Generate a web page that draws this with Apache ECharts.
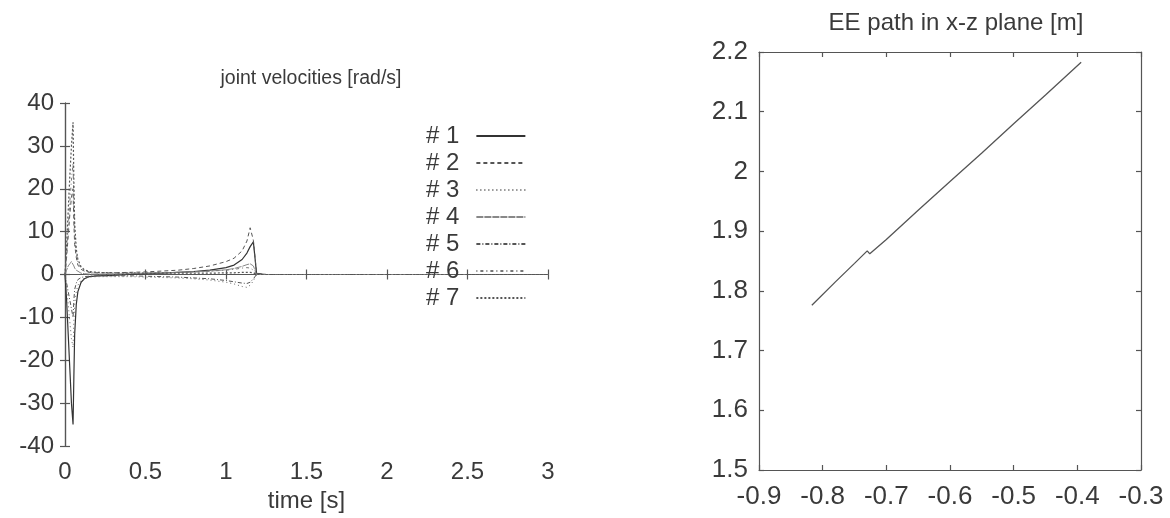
<!DOCTYPE html>
<html>
<head>
<meta charset="utf-8">
<script src="https://cdn.jsdelivr.net/npm/echarts@6/dist/echarts.min.js"></script>
<style>
  html, body { margin: 0; padding: 0; background: #fff; }
  #chart { width: 1170px; height: 518px; }
</style>
</head>
<body>
<div id="chart"></div>
<script>
// Time samples [s] shared by all joint velocity traces
const time = [0, 0.01, 0.02, 0.03, 0.04, 0.05, 0.055, 0.06, 0.07, 0.08, 0.1, 0.12, 0.15, 0.2, 0.3, 0.4, 0.5, 0.6, 0.7, 0.8, 0.9, 1.0, 1.05, 1.1, 1.13, 1.15, 1.17, 1.19, 1.25, 1.5, 2.0, 2.5, 3.0];

// Joint velocities [rad/s]
const joint1 = [0, -6, -14, -22, -30, -35, -24, -14, -7, -4, -1.8, -1.0, -0.5, -0.3, -0.2, 0.0, 0.2, 0.3, 0.5, 0.7, 1.0, 1.6, 2.2, 3.5, 5.0, 6.5, 7.6, 0.2, 0, 0, 0, 0, null];
const joint2 = [0, 4, 9, 14, 18, 20, 12, 7, 4, 2.2, 1.2, 0.8, 0.5, 0.4, 0.4, 0.5, 0.6, 0.8, 1.0, 1.4, 2.0, 3.0, 3.8, 5.5, 7.8, 10.9, 8.0, 0.3, 0, 0, 0, 0, null];
const joint3 = [0, -3, -7, -11, -15, -17, -11, -7, -4, -2.5, -1.3, -0.9, -0.6, -0.5, -0.5, -0.5, -0.6, -0.7, -0.8, -1.0, -1.3, -1.8, -2.2, -2.8, -3.0, -2.5, -1.5, 0, 0, 0, 0, 0, 0];
const joint4 = [0, 1, 2, 2.5, 3, 3, 2, 1.5, 1, 0.6, 0.3, 0.2, 0.1, 0.1, 0.1, 0.2, 0.3, 0.4, 0.5, 0.6, 0.8, 1.1, 1.4, 1.9, 2.3, 2.5, 2.0, 0, 0, 0, 0, 0, null];
const joint5 = [0, -2, -4, -6, -8, -10, -6, -3.5, -2, -1.2, -0.7, -0.5, -0.4, -0.3, -0.3, -0.3, -0.4, -0.5, -0.6, -0.8, -1.0, -1.4, -1.7, -2.0, -2.1, -1.8, -1.0, 0, 0, 0, 0, 0, null];
const joint6 = [0, 5, 11, 17, 22, 26, 16, 9, 5, 3, 1.5, 1.0, 0.6, 0.4, 0.3, 0.3, 0.3, 0.4, 0.5, 0.6, 0.8, 1.0, 1.2, 1.5, 1.6, 1.5, 1.0, 0, 0, 0, 0, 0, null];
const joint7 = [0, 7, 15, 23, 30, 35.5, 22, 12, 6, 3.5, 1.8, 1.1, 0.7, 0.5, 0.4, 0.4, 0.3, 0.3, 0.3, 0.3, 0.3, 0.4, 0.4, 0.5, 0.5, 0.5, 0.4, 0, 0, 0, 0, 0, null];

const jointNames = ['# 1', '# 2', '# 3', '# 4', '# 5', '# 6', '# 7'];

// End-effector path in the x-z plane [m]
const eeX = [-0.817, -0.78, -0.75, -0.730, -0.726, -0.70, -0.65, -0.60, -0.55, -0.50, -0.45, -0.394];
const eeZ = [1.776, 1.815, 1.846, 1.867, 1.862, 1.886, 1.935, 1.983, 2.031, 2.080, 2.128, 2.183];

const FONT = 'Liberation Sans, Arial, Helvetica, sans-serif';
const INK = '#3a3a3a';

const joints = [joint1, joint2, joint3, joint4, joint5, joint6, joint7];
const dashes = ['solid', [4, 3], [1, 3], [7, 1], [4, 2, 1, 2], [1, 3, 3, 3], [2, 2]];
const widths = [1.2, 1, 1, 1, 1, 1, 1.2];
const shades = ['#333', '#555', '#666', '#888', '#555', '#777', '#555'];

const frameLine = { show: true, lineStyle: { color: '#555', width: 1.2 } };
const tickIn = { show: true, inside: true, length: 5, lineStyle: { color: '#555', width: 1.2 } };
const leftTickLabel = { color: INK, fontFamily: FONT, fontSize: 24 };
const rightTickLabel = { color: INK, fontFamily: FONT, fontSize: 26 };

function pairs(xs, ys) {
  return xs.map((x, i) => [x, ys[i]]);
}

const series = joints.map((vals, i) => ({
  name: jointNames[i],
  type: 'line',
  xAxisIndex: 0,
  yAxisIndex: 0,
  symbol: 'none',
  showSymbol: false,
  connectNulls: false,
  animation: false,
  lineStyle: { color: shades[i], width: widths[i], type: dashes[i] },
  itemStyle: { color: shades[i] },
  data: pairs(time, vals)
}));

series.push({
  name: 'EE path',
  type: 'line',
  xAxisIndex: 2,
  yAxisIndex: 2,
  symbol: 'none',
  showSymbol: false,
  animation: false,
  lineStyle: { color: '#555', width: 1.3 },
  data: pairs(eeX, eeZ)
});

const option = {
  backgroundColor: '#fff',
  animation: false,
  title: [
    { text: 'joint velocities [rad/s]', left: 306, top: 64, textAlign: 'center',
      textStyle: { color: INK, fontFamily: FONT, fontSize: 19.5, fontWeight: 'normal' } },
    { text: 'EE path in x-z plane [m]', left: 951, top: 6, textAlign: 'center',
      textStyle: { color: INK, fontFamily: FONT, fontSize: 24, fontWeight: 'normal' } }
  ],
  legend: {
    data: jointNames,
    orient: 'vertical',
    left: 421,
    top: 119,
    align: 'right',
    itemWidth: 49,
    itemHeight: 14,
    itemGap: 3,
    itemStyle: { opacity: 0, color: 'rgba(0,0,0,0)', borderWidth: 0 },
    textStyle: { color: INK, fontFamily: FONT, fontSize: 24, padding: [0, 12, 0, 0] }
  },
  grid: [
    { left: 65, top: 103, width: 483, height: 346, containLabel: false },
    { left: 759, top: 52, width: 382, height: 418, containLabel: false }
  ],
  xAxis: [
    { gridIndex: 0, type: 'value', min: 0, max: 3, interval: 0.5, position: 'bottom',
      name: 'time [s]', nameLocation: 'middle', nameGap: 43,
      nameTextStyle: { color: INK, fontFamily: FONT, fontSize: 24 },
      axisLine: frameLine, axisTick: tickIn, axisLabel: Object.assign({ margin: 14 }, leftTickLabel),
      splitLine: { show: false } },
    { gridIndex: 0, type: 'value', min: 0, max: 3, interval: 0.5, position: 'top',
      axisLine: frameLine, axisTick: tickIn, axisLabel: { show: false }, splitLine: { show: false } },
    { gridIndex: 1, type: 'value', min: -0.9, max: -0.3, interval: 0.1, position: 'bottom',
      axisLine: frameLine, axisTick: tickIn, axisLabel: Object.assign({ margin: 14 }, rightTickLabel),
      splitLine: { show: false } },
    { gridIndex: 1, type: 'value', min: -0.9, max: -0.3, interval: 0.1, position: 'top',
      axisLine: frameLine, axisTick: tickIn, axisLabel: { show: false }, splitLine: { show: false } }
  ],
  yAxis: [
    { gridIndex: 0, type: 'value', min: -40, max: 40, interval: 10, position: 'left',
      axisLine: frameLine, axisTick: tickIn, axisLabel: Object.assign({ margin: 11 }, leftTickLabel),
      splitLine: { show: false } },
    { gridIndex: 0, type: 'value', min: -40, max: 40, interval: 10, position: 'right',
      axisLine: frameLine, axisTick: tickIn, axisLabel: { show: false }, splitLine: { show: false } },
    { gridIndex: 1, type: 'value', min: 1.5, max: 2.2, interval: 0.1, position: 'left',
      axisLine: frameLine, axisTick: tickIn, axisLabel: Object.assign({ margin: 11 }, rightTickLabel),
      splitLine: { show: false } },
    { gridIndex: 1, type: 'value', min: 1.5, max: 2.2, interval: 0.1, position: 'right',
      axisLine: frameLine, axisTick: tickIn, axisLabel: { show: false }, splitLine: { show: false } }
  ],
  series: series
};

const chart = echarts.init(document.getElementById('chart'), null, { renderer: 'canvas' });
chart.setOption(option);
</script>
</body>
</html>
